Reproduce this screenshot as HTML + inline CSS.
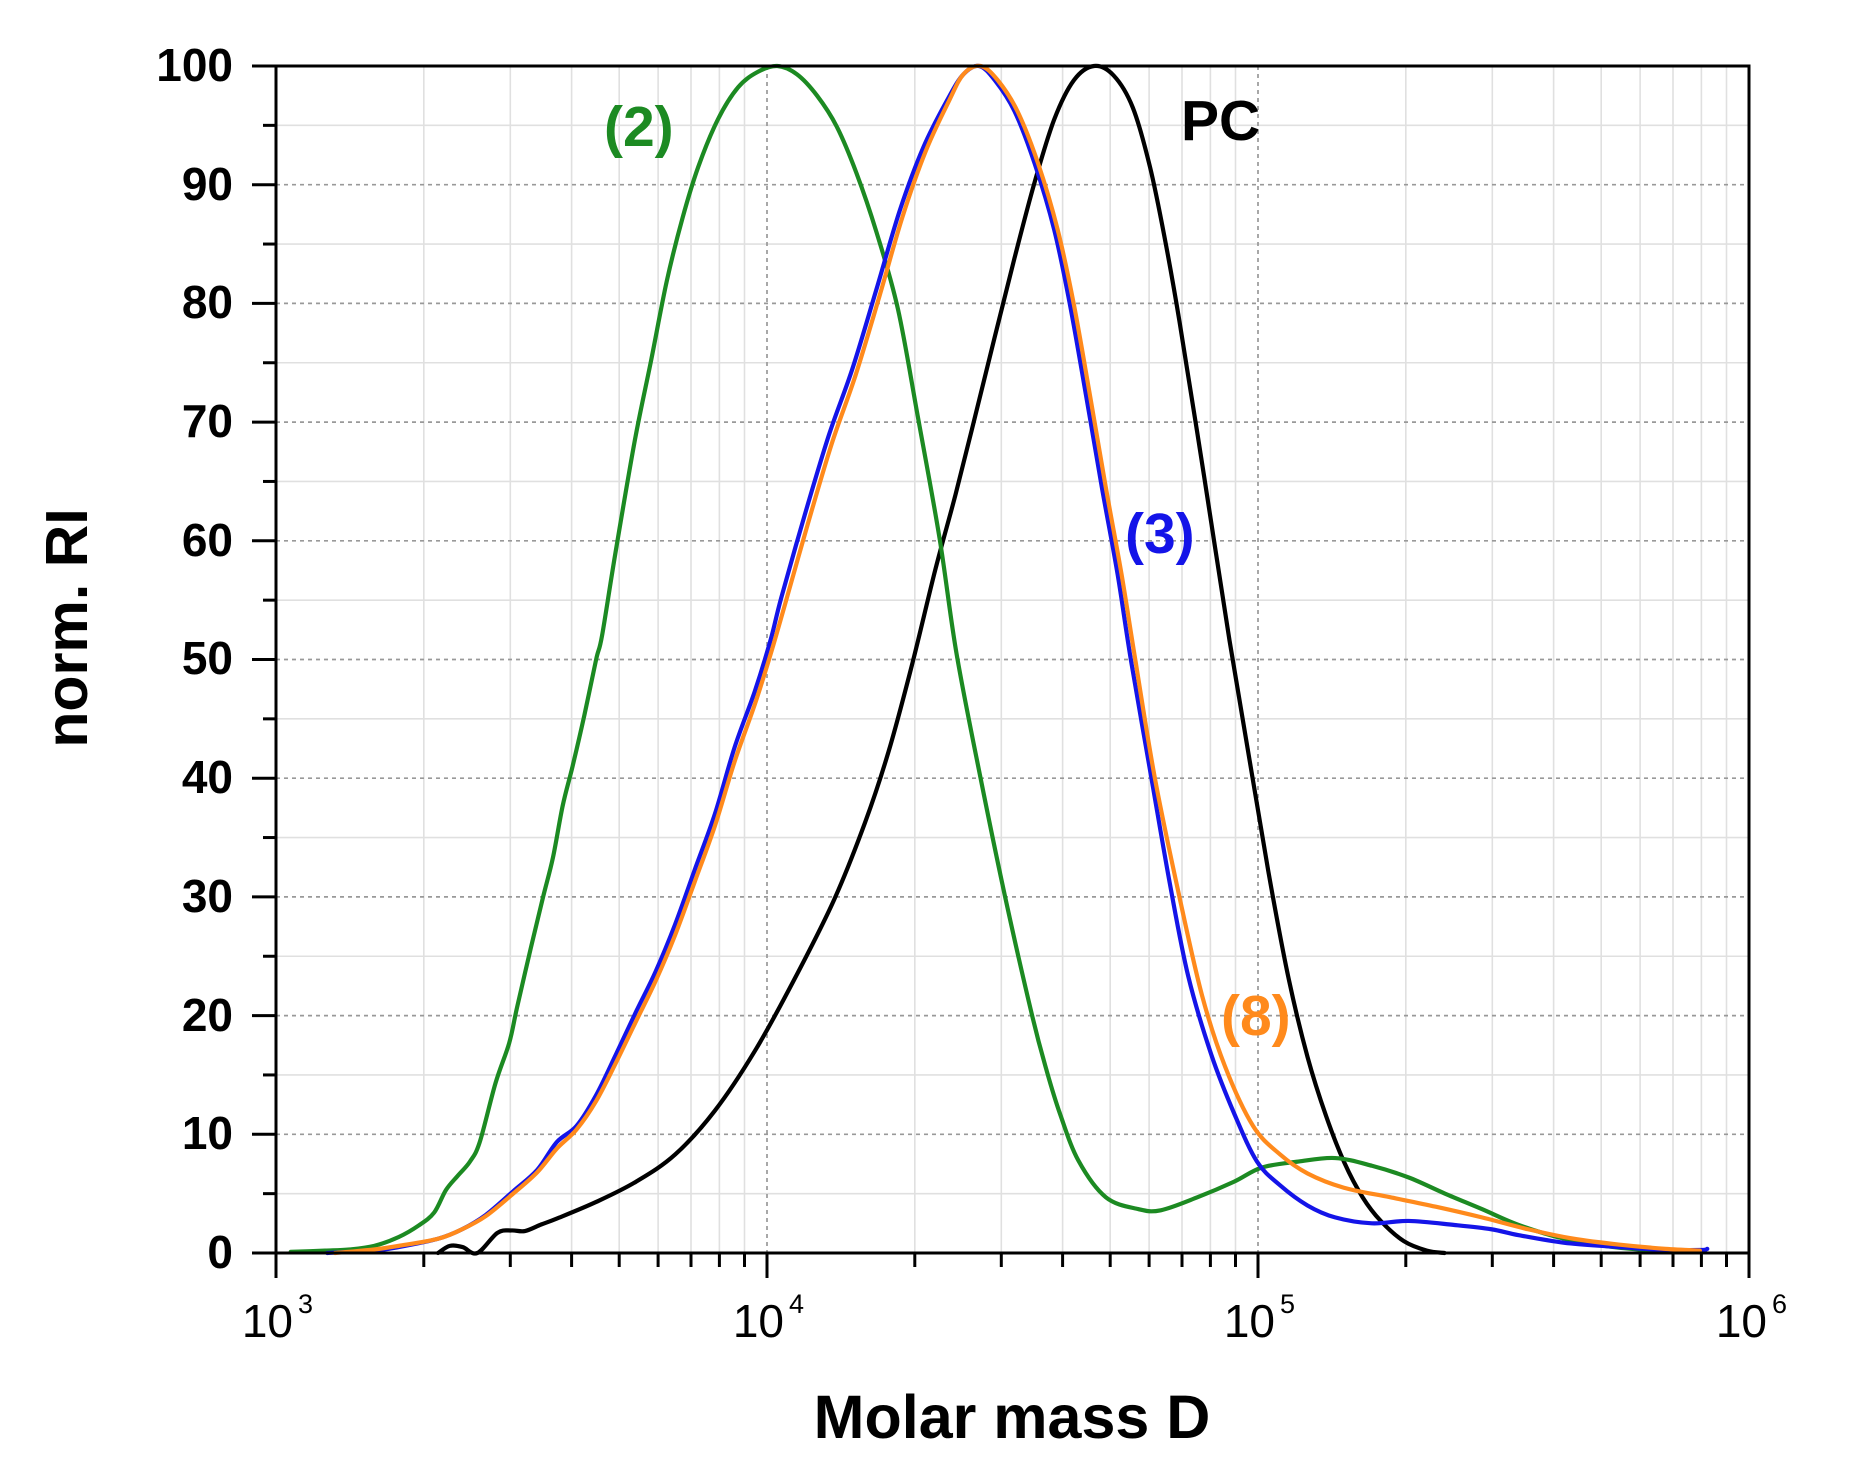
<!DOCTYPE html>
<html>
<head>
<meta charset="utf-8">
<style>
  html,body{margin:0;padding:0;background:#fff;}
  svg{display:block;}
  .tl{font-family:"Liberation Sans",Arial,sans-serif;font-weight:bold;font-size:46px;fill:#000;}
  .xl{font-family:"Liberation Sans",Arial,sans-serif;font-size:46px;fill:#000;}
  .xs{font-family:"Liberation Sans",Arial,sans-serif;font-size:27px;fill:#000;}
  .ttl{font-family:"Liberation Sans",Arial,sans-serif;font-weight:bold;fill:#000;}
  .lab{font-family:"Liberation Sans",Arial,sans-serif;font-weight:bold;font-size:57px;}
  .c{fill:none;stroke-width:4.2;stroke-linejoin:round;stroke-linecap:round;}
</style>
</head>
<body>
<svg width="1856" height="1466" viewBox="0 0 1856 1466" xmlns="http://www.w3.org/2000/svg">
  <rect x="0" y="0" width="1856" height="1466" fill="#fff"/>

  <!-- minor grid (solid light) -->
  <g stroke="#e0e0e0" stroke-width="1.6">
    <line x1="423.8" y1="66" x2="423.8" y2="1253"/>
    <line x1="510.3" y1="66" x2="510.3" y2="1253"/>
    <line x1="571.6" y1="66" x2="571.6" y2="1253"/>
    <line x1="619.2" y1="66" x2="619.2" y2="1253"/>
    <line x1="658.1" y1="66" x2="658.1" y2="1253"/>
    <line x1="691.0" y1="66" x2="691.0" y2="1253"/>
    <line x1="719.4" y1="66" x2="719.4" y2="1253"/>
    <line x1="744.5" y1="66" x2="744.5" y2="1253"/>
    <line x1="914.8" y1="66" x2="914.8" y2="1253"/>
    <line x1="1001.3" y1="66" x2="1001.3" y2="1253"/>
    <line x1="1062.6" y1="66" x2="1062.6" y2="1253"/>
    <line x1="1110.2" y1="66" x2="1110.2" y2="1253"/>
    <line x1="1149.1" y1="66" x2="1149.1" y2="1253"/>
    <line x1="1182.0" y1="66" x2="1182.0" y2="1253"/>
    <line x1="1210.4" y1="66" x2="1210.4" y2="1253"/>
    <line x1="1235.5" y1="66" x2="1235.5" y2="1253"/>
    <line x1="1405.8" y1="66" x2="1405.8" y2="1253"/>
    <line x1="1492.3" y1="66" x2="1492.3" y2="1253"/>
    <line x1="1553.6" y1="66" x2="1553.6" y2="1253"/>
    <line x1="1601.2" y1="66" x2="1601.2" y2="1253"/>
    <line x1="1640.1" y1="66" x2="1640.1" y2="1253"/>
    <line x1="1673.0" y1="66" x2="1673.0" y2="1253"/>
    <line x1="1701.4" y1="66" x2="1701.4" y2="1253"/>
    <line x1="1726.5" y1="66" x2="1726.5" y2="1253"/>
    <line x1="276" y1="1193.65" x2="1749" y2="1193.65"/>
    <line x1="276" y1="1074.95" x2="1749" y2="1074.95"/>
    <line x1="276" y1="956.25" x2="1749" y2="956.25"/>
    <line x1="276" y1="837.55" x2="1749" y2="837.55"/>
    <line x1="276" y1="718.85" x2="1749" y2="718.85"/>
    <line x1="276" y1="600.15" x2="1749" y2="600.15"/>
    <line x1="276" y1="481.45" x2="1749" y2="481.45"/>
    <line x1="276" y1="362.75" x2="1749" y2="362.75"/>
    <line x1="276" y1="244.05" x2="1749" y2="244.05"/>
    <line x1="276" y1="125.35" x2="1749" y2="125.35"/>
  </g>

  <!-- major grid (dashed) -->
  <g stroke="#999" stroke-width="1.7" stroke-dasharray="4 4">
    <line x1="767" y1="66" x2="767" y2="1253"/>
    <line x1="1258" y1="66" x2="1258" y2="1253"/>
    <line x1="276" y1="1134.3" x2="1749" y2="1134.3"/>
    <line x1="276" y1="1015.6" x2="1749" y2="1015.6"/>
    <line x1="276" y1="896.9" x2="1749" y2="896.9"/>
    <line x1="276" y1="778.2" x2="1749" y2="778.2"/>
    <line x1="276" y1="659.5" x2="1749" y2="659.5"/>
    <line x1="276" y1="540.8" x2="1749" y2="540.8"/>
    <line x1="276" y1="422.1" x2="1749" y2="422.1"/>
    <line x1="276" y1="303.4" x2="1749" y2="303.4"/>
    <line x1="276" y1="184.7" x2="1749" y2="184.7"/>
  </g>

  <!-- curves in data coords: x = log10(M), y = value -->
  <g transform="matrix(491 0 0 -11.87 -1197 1253)">
    <!-- black PC -->
    <polyline class="c" vector-effect="non-scaling-stroke" stroke="#000" points="
      3.33,0 3.354,0.6 3.38,0.5 3.41,0 3.451,1.7 3.48,1.9 3.507,1.85 3.54,2.4 3.572,2.9
      3.652,4.3 3.733,6 3.813,8.3 3.894,12 3.975,17 4.055,23 4.136,29.7 4.2,36.3 4.248,42.3
      4.295,49.5 4.343,57.6 4.384,63.9 4.424,70.5 4.464,77.2 4.504,83.8 4.545,90.2
      4.585,95.5 4.625,98.8 4.666,100 4.706,99.2 4.745,96.5 4.78,91.5 4.81,85.5 4.84,78.5
      4.89,65.5 4.942,51.6 4.989,40 5.026,31 5.063,23 5.101,16.5 5.139,11.5 5.176,7.6
      5.213,4.7 5.25,2.7 5.297,1.0 5.344,0.2 5.38,0"/>
    <!-- green (2) -->
    <polyline class="c" vector-effect="non-scaling-stroke" stroke="#1c8a22" points="
      3.03,0.1 3.1,0.2 3.15,0.3 3.2,0.6 3.25,1.35 3.29,2.3 3.322,3.4 3.346,5.3 3.37,6.5
      3.395,7.7 3.415,9.35 3.447,14.3 3.475,17.7 3.491,20.7 3.519,25.7 3.544,30 3.564,33.3
      3.584,37.7 3.604,41 3.628,45.3 3.652,50 3.664,52 3.691,58.9 3.731,68.5 3.764,75.2
      3.796,81.9 3.828,87.2 3.86,91.5 3.90,95.5 3.941,98.2 3.981,99.5 4.021,100 4.061,99.3
      4.102,97.5 4.142,94.9 4.182,91.0 4.223,86.0 4.2668,79.5 4.307,70.5 4.3515,60.2
      4.386,50.5 4.435,40 4.485,30 4.54,20 4.57,15.3 4.597,11.7 4.634,7.8 4.69,4.7
      4.756,3.7 4.802,3.6 4.877,4.7 4.951,6.0 5.008,7.2 5.082,7.7 5.157,8.0 5.232,7.35
      5.307,6.36 5.381,5.0 5.456,3.7 5.531,2.36 5.624,1.2 5.718,0.53 5.81,0.2 5.9,0.1"/>
    <!-- blue (3) -->
    <polyline class="c" vector-effect="non-scaling-stroke" stroke="#1414e8" points="
      3.104,0 3.2,0.2 3.25,0.5 3.33,1.2 3.379,2 3.427,3.2 3.483,5.2 3.532,7 3.572,9.35
      3.612,10.7 3.652,13.3 3.692,16.7 3.733,20.3 3.773,23.7 3.813,27.7 3.853,32.3 3.894,37
      3.934,42.6 3.975,47.3 4.007,51.6 4.029,55.2 4.077,62.2 4.126,68.9 4.174,74.5 4.223,81.2
      4.271,87.9 4.319,93.2 4.368,97.2 4.40,99.3 4.432,100 4.464,98.8 4.504,96.2 4.545,91.8
      4.585,86.2 4.617,79.9 4.65,72.2 4.682,64.5 4.714,57.2 4.741,50 4.783,40 4.821,31
      4.858,23.3 4.905,16.7 4.952,11.7 4.998,7.7 5.045,5.7 5.101,4.0 5.157,3.0 5.232,2.5
      5.307,2.7 5.4,2.36 5.475,2.0 5.531,1.5 5.624,0.86 5.72,0.55 5.81,0.3 5.9,0.25 5.915,0.35"/>
    <!-- orange (8) -->
    <polyline class="c" vector-effect="non-scaling-stroke" stroke="#ff8a1c" points="
      3.12,0 3.2,0.3 3.25,0.6 3.33,1.2 3.379,2 3.427,3.1 3.483,5.0 3.532,6.8 3.572,8.8
      3.612,10.4 3.652,12.8 3.692,16.0 3.733,19.5 3.773,22.9 3.813,26.8 3.853,31.3 3.894,36
      3.934,41.4 3.975,46.2 4.007,50.4 4.035,54.4 4.083,61.4 4.132,68.2 4.18,73.9 4.229,80.6
      4.276,87.3 4.323,92.8 4.37,97 4.40,99.3 4.435,100 4.47,98.8 4.51,96.2 4.552,91.8
      4.592,86.2 4.625,79.9 4.658,72.2 4.69,64.5 4.722,57.2 4.75,50 4.79,40 4.84,30
      4.886,21.7 4.933,15.7 4.99,10.7 5.045,8.3 5.101,6.7 5.175,5.5 5.269,4.7 5.362,3.9
      5.456,3.0 5.55,2.0 5.643,1.2 5.737,0.7 5.83,0.35 5.9,0.2"/>
  </g>

  <!-- axes frame -->
  <rect x="276" y="66" width="1473" height="1187" fill="none" stroke="#000" stroke-width="3"/>

  <!-- y ticks -->
  <g stroke="#000" stroke-width="3">
    <line x1="252" y1="1253" x2="276" y2="1253"/>
    <line x1="252" y1="1134.3" x2="276" y2="1134.3"/>
    <line x1="252" y1="1015.6" x2="276" y2="1015.6"/>
    <line x1="252" y1="896.9" x2="276" y2="896.9"/>
    <line x1="252" y1="778.2" x2="276" y2="778.2"/>
    <line x1="252" y1="659.5" x2="276" y2="659.5"/>
    <line x1="252" y1="540.8" x2="276" y2="540.8"/>
    <line x1="252" y1="422.1" x2="276" y2="422.1"/>
    <line x1="252" y1="303.4" x2="276" y2="303.4"/>
    <line x1="252" y1="184.7" x2="276" y2="184.7"/>
    <line x1="252" y1="66" x2="276" y2="66"/>
    <line x1="263" y1="1193.65" x2="276" y2="1193.65"/>
    <line x1="263" y1="1074.95" x2="276" y2="1074.95"/>
    <line x1="263" y1="956.25" x2="276" y2="956.25"/>
    <line x1="263" y1="837.55" x2="276" y2="837.55"/>
    <line x1="263" y1="718.85" x2="276" y2="718.85"/>
    <line x1="263" y1="600.15" x2="276" y2="600.15"/>
    <line x1="263" y1="481.45" x2="276" y2="481.45"/>
    <line x1="263" y1="362.75" x2="276" y2="362.75"/>
    <line x1="263" y1="244.05" x2="276" y2="244.05"/>
    <line x1="263" y1="125.35" x2="276" y2="125.35"/>
  </g>

  <!-- x ticks -->
  <g stroke="#000" stroke-width="3">
    <line x1="276" y1="1253" x2="276" y2="1278"/>
    <line x1="767" y1="1253" x2="767" y2="1278"/>
    <line x1="1258" y1="1253" x2="1258" y2="1278"/>
    <line x1="1749" y1="1253" x2="1749" y2="1278"/>
    <line x1="423.8" y1="1253" x2="423.8" y2="1267"/>
    <line x1="510.3" y1="1253" x2="510.3" y2="1267"/>
    <line x1="571.6" y1="1253" x2="571.6" y2="1267"/>
    <line x1="619.2" y1="1253" x2="619.2" y2="1267"/>
    <line x1="658.1" y1="1253" x2="658.1" y2="1267"/>
    <line x1="691.0" y1="1253" x2="691.0" y2="1267"/>
    <line x1="719.4" y1="1253" x2="719.4" y2="1267"/>
    <line x1="744.5" y1="1253" x2="744.5" y2="1267"/>
    <line x1="914.8" y1="1253" x2="914.8" y2="1267"/>
    <line x1="1001.3" y1="1253" x2="1001.3" y2="1267"/>
    <line x1="1062.6" y1="1253" x2="1062.6" y2="1267"/>
    <line x1="1110.2" y1="1253" x2="1110.2" y2="1267"/>
    <line x1="1149.1" y1="1253" x2="1149.1" y2="1267"/>
    <line x1="1182.0" y1="1253" x2="1182.0" y2="1267"/>
    <line x1="1210.4" y1="1253" x2="1210.4" y2="1267"/>
    <line x1="1235.5" y1="1253" x2="1235.5" y2="1267"/>
    <line x1="1405.8" y1="1253" x2="1405.8" y2="1267"/>
    <line x1="1492.3" y1="1253" x2="1492.3" y2="1267"/>
    <line x1="1553.6" y1="1253" x2="1553.6" y2="1267"/>
    <line x1="1601.2" y1="1253" x2="1601.2" y2="1267"/>
    <line x1="1640.1" y1="1253" x2="1640.1" y2="1267"/>
    <line x1="1673.0" y1="1253" x2="1673.0" y2="1267"/>
    <line x1="1701.4" y1="1253" x2="1701.4" y2="1267"/>
    <line x1="1726.5" y1="1253" x2="1726.5" y2="1267"/>
  </g>

  <!-- y tick labels -->
  <g class="tl" text-anchor="end">
    <text x="233" y="81">100</text>
    <text x="233" y="200">90</text>
    <text x="233" y="318">80</text>
    <text x="233" y="437">70</text>
    <text x="233" y="556">60</text>
    <text x="233" y="674">50</text>
    <text x="233" y="793">40</text>
    <text x="233" y="912">30</text>
    <text x="233" y="1031">20</text>
    <text x="233" y="1149">10</text>
    <text x="233" y="1268">0</text>
  </g>

  <!-- x tick labels -->
  <g>
    <text class="xl" x="293" y="1337" text-anchor="end">10</text>
    <text class="xs" x="298" y="1313">3</text>
    <text class="xl" x="784" y="1337" text-anchor="end">10</text>
    <text class="xs" x="789" y="1313">4</text>
    <text class="xl" x="1275" y="1337" text-anchor="end">10</text>
    <text class="xs" x="1280" y="1313">5</text>
    <text class="xl" x="1767" y="1337" text-anchor="end">10</text>
    <text class="xs" x="1772" y="1313">6</text>
  </g>

  <!-- axis titles -->
  <text class="ttl" x="1012" y="1438" font-size="61" text-anchor="middle">Molar mass D</text>
  <text class="ttl" x="0" y="0" font-size="59" text-anchor="middle" transform="translate(87,628) rotate(-90)">norm. RI</text>

  <!-- curve labels -->
  <text class="lab" x="604" y="146" fill="#1c8a22">(2)</text>
  <text class="lab" x="1181" y="140" fill="#000">PC</text>
  <text class="lab" x="1125" y="553" fill="#1414e8">(3)</text>
  <text class="lab" x="1221" y="1035" fill="#ff8a1c">(8)</text>
</svg>
<script>
(function(){
  var pls = document.querySelectorAll('polyline.c');
  for (var k = 0; k < pls.length; k++) {
    var pl = pls[k];
    var nums = pl.getAttribute('points').trim().split(/[\s,]+/).map(Number);
    var p = [];
    for (var i = 0; i + 1 < nums.length; i += 2) p.push([nums[i], nums[i+1]]);
    if (p.length < 3) continue;
    var d = 'M' + p[0][0] + ',' + p[0][1];
    for (var j = 0; j < p.length - 1; j++) {
      var p0 = p[j-1] || p[j], p1 = p[j], p2 = p[j+1], p3 = p[j+2] || p2;
      var c1x = p1[0] + (p2[0]-p0[0])/6, c1y = p1[1] + (p2[1]-p0[1])/6;
      var c2x = p2[0] - (p3[0]-p1[0])/6, c2y = p2[1] - (p3[1]-p1[1])/6;
      d += ' C' + c1x + ',' + c1y + ' ' + c2x + ',' + c2y + ' ' + p2[0] + ',' + p2[1];
    }
    var path = document.createElementNS('http://www.w3.org/2000/svg', 'path');
    path.setAttribute('d', d);
    path.setAttribute('class', 'c');
    path.setAttribute('stroke', pl.getAttribute('stroke'));
    path.setAttribute('vector-effect', 'non-scaling-stroke');
    pl.parentNode.replaceChild(path, pl);
  }
})();
</script>
</body>
</html>
